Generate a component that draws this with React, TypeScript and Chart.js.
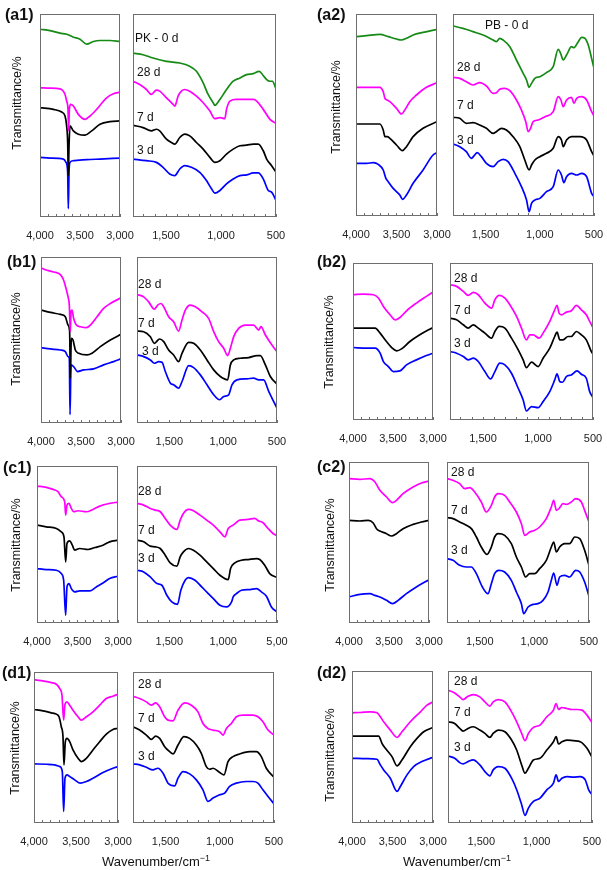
import React, { useEffect, useRef } from "react";
import { Chart, registerables } from "chart.js";

Chart.register(...registerables);

type Pt = [number, number];

const FONT = '"Liberation Sans", Arial, Helvetica, sans-serif';
const GREEN = "#158a15";
const MAGENTA = "#ff00ff";
const BLACK = "#000000";
const BLUE = "#0000ff";

// ---- tick labels ----
const LEFT_TICKS: Record<number, string> = { 4000: "4,000", 3500: "3,500", 3000: "3,000" };
const RIGHT_TICKS: Record<number, string> = { 1500: "1,500", 1000: "1,000", 500: "500" };
const RIGHT_TICKS_C1: Record<number, string> = { 1500: "1,500", 1000: "1,000", 500: "5,00" };

// ---- data: [wavenumber cm-1, transmittance a.u.] ----
// (a1) PK
const A1_L_0D: Pt[] = [[4000,567],[3875,563],[3750,555],[3667,552],[3583,543],[3500,537],[3417,522],[3333,530],[3250,533],[3125,533],[3000,530]];
const A1_L_28D: Pt[] = [[4000,390],[3875,389],[3750,387],[3687,370],[3667,350],[3650,325],[3642,260],[3633,325],[3617,340],[3583,335],[3521,310],[3437,295],[3375,305],[3292,325],[3167,360],[3083,372],[3000,377]];
const A1_L_7D: Pt[] = [[4000,330],[3833,325],[3729,317],[3687,305],[3667,275],[3654,225],[3646,125],[3637,215],[3625,275],[3583,260],[3521,250],[3437,247],[3354,260],[3250,280],[3125,288],[3000,290]];
const A1_L_3D: Pt[] = [[4000,180],[3875,178],[3708,175],[3675,165],[3654,135],[3646,25],[3637,135],[3625,165],[3583,170],[3417,173],[3250,175],[3000,178]];
const A1_R_0D: Pt[] = [[1800,495],[1709,490],[1618,480],[1496,470],[1375,465],[1284,455],[1223,440],[1162,405],[1117,370],[1071,345],[1056,337],[1010,355],[950,385],[889,410],[828,420],[767,430],[707,433],[652,440],[616,427],[585,415],[555,410],[533,410],[500,387]];
const A1_R_28D: Pt[] = [[1800,410],[1739,400],[1678,385],[1633,370],[1587,383],[1557,380],[1496,360],[1436,340],[1420,335],[1390,365],[1360,380],[1329,385],[1284,380],[1223,365],[1162,345],[1101,320],[1056,297],[1010,300],[965,297],[950,325],[919,350],[859,355],[767,355],[707,355],[676,350],[616,325],[555,295],[500,283]];
const A1_R_7D: Pt[] = [[1800,277],[1709,270],[1633,260],[1587,265],[1557,260],[1496,235],[1451,225],[1420,220],[1375,240],[1329,250],[1284,245],[1223,225],[1162,205],[1101,180],[1056,165],[1010,170],[950,190],[889,205],[828,215],[767,217],[707,220],[661,220],[616,200],[585,175],[540,155],[500,135]];
const A1_R_3D: Pt[] = [[1800,175],[1678,170],[1587,165],[1527,150],[1466,130],[1420,125],[1375,145],[1329,155],[1269,150],[1193,135],[1132,110],[1086,85],[1056,72],[1010,80],[950,100],[889,115],[828,125],[767,127],[707,133],[661,133],[616,115],[570,80],[540,75],[500,50]];

// (a2) PB
const A2_L_0D: Pt[] = [[4000,538],[3869,541],[3705,545],[3602,538],[3500,531],[3439,528],[3377,533],[3295,543],[3172,551],[3000,560]];
const A2_L_28D: Pt[] = [[4000,386],[3869,386],[3705,386],[3664,373],[3643,353],[3615,348],[3582,343],[3500,323],[3439,306],[3398,318],[3336,343],[3254,363],[3131,386],[3000,400]];
const A2_L_7D: Pt[] = [[4000,276],[3869,276],[3705,276],[3664,258],[3643,238],[3615,238],[3582,233],[3500,213],[3426,196],[3377,208],[3295,238],[3172,263],[3000,283]];
const A2_L_3D: Pt[] = [[4000,158],[3869,158],[3787,160],[3725,155],[3664,138],[3631,113],[3602,103],[3541,83],[3459,63],[3426,50],[3377,63],[3295,98],[3172,138],[3049,183],[3000,190]];
const A2_R_0D: Pt[] = [[1800,570],[1708,563],[1615,553],[1523,543],[1430,528],[1400,523],[1369,533],[1338,528],[1276,508],[1215,468],[1153,428],[1122,408],[1098,386],[1076,398],[1045,413],[999,418],[938,430],[876,448],[830,500],[808,488],[784,468],[753,483],[707,508],[685,505],[645,523],[614,536],[583,533],[553,513],[522,473],[500,443]];
const A2_R_28D: Pt[] = [[1800,416],[1738,413],[1677,403],[1615,393],[1554,400],[1492,390],[1430,368],[1400,370],[1369,380],[1323,383],[1276,376],[1215,348],[1169,318],[1129,283],[1107,253],[1085,263],[1061,283],[1015,288],[953,298],[876,313],[830,358],[805,348],[784,328],[753,348],[707,356],[685,338],[660,353],[614,358],[568,348],[522,313],[500,300]];
const A2_R_7D: Pt[] = [[1800,296],[1738,293],[1677,278],[1615,280],[1554,273],[1492,263],[1430,248],[1400,253],[1353,263],[1307,258],[1246,238],[1184,208],[1138,168],[1098,138],[1076,153],[1045,168],[999,178],[938,188],[876,203],[830,238],[800,228],[784,208],[753,228],[707,238],[630,238],[568,228],[522,193],[500,180]];
const A2_R_3D: Pt[] = [[1800,216],[1738,208],[1677,193],[1631,173],[1600,183],[1578,190],[1538,178],[1492,158],[1430,148],[1384,163],[1338,170],[1292,163],[1230,128],[1169,88],[1122,48],[1098,13],[1076,38],[1045,48],[999,53],[938,73],[876,88],[830,138],[800,123],[778,100],[753,118],[707,128],[660,123],[614,128],[568,118],[522,68],[500,58]];

// (b1)
const B1_L_28D: Pt[] = [[4000,467],[3925,460],[3842,455],[3758,447],[3717,430],[3687,405],[3662,380],[3646,355],[3633,275],[3625,335],[3612,340],[3592,315],[3558,295],[3508,290],[3433,287],[3383,295],[3300,320],[3217,345],[3133,360],[3000,377]];
const B1_L_7D: Pt[] = [[4000,340],[3883,333],[3758,327],[3696,320],[3662,295],[3642,275],[3633,135],[3621,255],[3600,250],[3571,220],[3529,210],[3425,205],[3362,210],[3258,230],[3133,250],[3000,267]];
const B1_L_3D: Pt[] = [[4000,227],[3883,223],[3758,220],[3696,215],[3662,200],[3646,195],[3637,25],[3625,175],[3592,170],[3542,155],[3467,160],[3342,163],[3217,175],[3092,185],[3000,193]];
const B1_R_28D: Pt[] = [[1800,387],[1738,380],[1692,365],[1639,343],[1608,355],[1577,360],[1552,350],[1506,320],[1460,305],[1413,277],[1382,310],[1351,340],[1305,355],[1258,350],[1196,335],[1135,315],[1088,275],[1042,245],[995,225],[958,203],[933,225],[902,260],[856,285],[794,295],[717,295],[670,280],[649,290],[608,265],[547,235],[500,215]];
const B1_R_7D: Pt[] = [[1800,277],[1738,275],[1676,260],[1639,240],[1590,253],[1552,245],[1506,220],[1460,205],[1413,185],[1382,210],[1320,243],[1274,240],[1212,220],[1150,190],[1088,160],[1026,140],[958,130],[933,175],[902,190],[840,195],[763,197],[686,203],[655,203],[608,175],[562,140],[500,117]];
const B1_R_3D: Pt[] = [[1800,205],[1738,200],[1676,190],[1639,180],[1599,185],[1568,183],[1537,155],[1490,120],[1460,115],[1413,105],[1382,125],[1320,173],[1274,167],[1212,145],[1150,115],[1088,85],[1032,70],[995,80],[949,85],[918,115],[871,130],[779,133],[717,135],[670,130],[624,130],[577,95],[547,75],[500,45]];

// (b2)
const B2_L_28D: Pt[] = [[4000,375],[3868,377],[3744,375],[3682,365],[3620,340],[3537,315],[3475,300],[3413,307],[3331,327],[3207,350],[3083,370],[3000,383]];
const B2_L_7D: Pt[] = [[4000,275],[3868,275],[3723,275],[3661,260],[3599,240],[3517,217],[3455,207],[3393,213],[3289,235],[3165,255],[3000,277]];
const B2_L_3D: Pt[] = [[4000,217],[3826,215],[3723,215],[3661,200],[3620,175],[3558,160],[3496,145],[3413,147],[3331,165],[3207,180],[3083,193],[3000,200]];
const B2_R_28D: Pt[] = [[1800,405],[1740,400],[1679,385],[1634,373],[1588,382],[1543,375],[1483,350],[1422,335],[1392,360],[1353,373],[1301,365],[1256,345],[1195,310],[1150,275],[1105,240],[1074,255],[1044,255],[990,245],[954,260],[893,295],[848,330],[827,343],[808,320],[787,315],[742,323],[697,327],[651,343],[606,330],[561,315],[530,295],[500,277]];
const B2_R_7D: Pt[] = [[1800,305],[1740,300],[1679,285],[1634,275],[1588,285],[1543,275],[1483,260],[1422,245],[1392,265],[1353,280],[1301,275],[1241,245],[1180,210],[1135,180],[1105,157],[1059,173],[999,160],[954,185],[893,215],[848,250],[827,263],[802,240],[772,240],[727,250],[697,250],[651,265],[606,255],[561,240],[515,205],[500,197]];
const B2_R_3D: Pt[] = [[1800,205],[1740,200],[1679,190],[1634,180],[1588,185],[1543,175],[1483,145],[1431,123],[1392,145],[1347,170],[1301,165],[1241,140],[1180,95],[1135,60],[1105,27],[1059,40],[999,37],[954,55],[893,85],[848,120],[827,138],[802,115],[778,113],[742,130],[697,135],[645,147],[606,137],[561,125],[530,85],[500,67]];

// (c1)
const C1_L_28D: Pt[] = [[4000,410],[3885,406],[3802,400],[3741,393],[3700,378],[3658,363],[3646,323],[3630,353],[3605,358],[3576,343],[3547,333],[3494,336],[3391,333],[3309,340],[3226,350],[3103,358],[3000,362]];
const C1_L_7D: Pt[] = [[4000,293],[3885,288],[3761,283],[3700,273],[3667,258],[3646,183],[3630,238],[3597,246],[3564,233],[3535,218],[3473,223],[3370,220],[3284,226],[3185,233],[3103,243],[3000,248]];
const C1_L_3D: Pt[] = [[4000,163],[3885,160],[3761,158],[3700,148],[3671,128],[3646,23],[3630,108],[3605,118],[3576,103],[3535,93],[3473,96],[3350,96],[3268,108],[3185,120],[3103,133],[3000,140]];
const C1_R_28D: Pt[] = [[1800,358],[1738,353],[1677,343],[1631,338],[1584,333],[1538,313],[1492,293],[1430,280],[1399,308],[1369,328],[1322,340],[1276,336],[1215,323],[1153,308],[1091,293],[1030,273],[984,258],[953,283],[907,293],[845,308],[768,310],[706,313],[675,306],[629,300],[583,283],[537,268],[500,261]];
const C1_R_7D: Pt[] = [[1800,248],[1738,243],[1677,230],[1631,228],[1584,223],[1538,203],[1492,180],[1430,170],[1399,198],[1369,213],[1322,223],[1276,218],[1215,203],[1153,183],[1091,163],[1030,143],[953,130],[931,163],[891,180],[830,188],[768,190],[691,193],[660,190],[614,173],[568,148],[500,136]];
const C1_R_3D: Pt[] = [[1800,158],[1738,153],[1677,138],[1615,118],[1569,113],[1523,83],[1477,63],[1424,56],[1393,98],[1353,128],[1322,136],[1261,128],[1199,108],[1138,88],[1091,73],[1030,53],[968,48],[922,63],[907,78],[876,88],[830,98],[752,100],[691,103],[645,93],[598,80],[552,48],[500,33]];

// (c2)
const C2_L_28D: Pt[] = [[4000,433],[3863,431],[3739,433],[3676,423],[3614,398],[3531,378],[3456,361],[3407,368],[3324,388],[3199,408],[3095,420],[3000,426]];
const C2_L_7D: Pt[] = [[4000,308],[3863,306],[3759,308],[3697,300],[3656,283],[3614,276],[3531,268],[3469,261],[3407,268],[3324,283],[3199,296],[3095,303],[3000,308]];
const C2_L_3D: Pt[] = [[4000,78],[3863,86],[3739,88],[3676,83],[3614,78],[3531,68],[3456,58],[3386,68],[3282,88],[3158,108],[3000,130]];
const C2_R_28D: Pt[] = [[1800,433],[1745,428],[1684,418],[1638,403],[1592,406],[1547,393],[1486,363],[1440,333],[1394,353],[1364,378],[1333,388],[1272,383],[1226,363],[1165,333],[1119,298],[1089,263],[1043,273],[997,278],[952,288],[891,313],[845,348],[823,368],[799,338],[775,343],[738,358],[707,356],[662,363],[622,373],[570,363],[540,338],[500,303]];
const C2_R_7D: Pt[] = [[1800,316],[1745,313],[1684,303],[1623,293],[1577,283],[1531,258],[1486,228],[1434,206],[1394,228],[1364,258],[1333,268],[1272,263],[1211,238],[1165,198],[1119,168],[1080,138],[1043,148],[997,148],[952,163],[891,188],[845,228],[823,243],[799,213],[769,228],[723,238],[677,238],[631,258],[585,253],[540,218],[500,173]];
const C2_R_3D: Pt[] = [[1800,193],[1745,188],[1684,173],[1623,168],[1577,168],[1531,148],[1476,108],[1425,88],[1394,118],[1364,148],[1327,158],[1272,153],[1211,128],[1165,93],[1119,58],[1098,28],[1058,48],[1013,56],[967,58],[921,68],[875,93],[845,128],[823,150],[793,113],[769,138],[723,143],[677,138],[622,158],[585,153],[540,123],[500,80]];

// (d1)
const D1_L_28D: Pt[] = [[4000,432],[3893,428],[3794,423],[3734,418],[3694,405],[3667,385],[3647,310],[3631,358],[3607,365],[3575,355],[3536,340],[3476,320],[3437,310],[3377,320],[3298,335],[3218,355],[3139,375],[3060,382],[3000,388]];
const D1_L_7D: Pt[] = [[4000,342],[3893,338],[3794,332],[3734,328],[3702,320],[3675,290],[3655,260],[3643,175],[3627,245],[3607,255],[3575,245],[3536,220],[3476,195],[3437,185],[3377,195],[3298,220],[3218,245],[3139,268],[3060,282],[3000,285]];
const D1_L_3D: Pt[] = [[4000,178],[3853,177],[3754,175],[3694,170],[3663,155],[3647,35],[3631,135],[3607,145],[3575,140],[3516,130],[3448,120],[3377,125],[3298,135],[3179,152],[3060,165],[3000,170]];
const D1_R_28D: Pt[] = [[1800,382],[1739,375],[1677,365],[1631,355],[1591,362],[1554,350],[1508,320],[1477,310],[1431,308],[1385,340],[1324,362],[1262,355],[1201,335],[1155,300],[1109,285],[1062,280],[1001,275],[970,265],[939,285],[893,300],[847,320],[786,325],[694,325],[648,320],[602,305],[555,280],[500,265]];
const D1_R_7D: Pt[] = [[1800,290],[1739,280],[1677,265],[1631,252],[1591,262],[1554,255],[1508,230],[1462,215],[1431,208],[1385,235],[1330,260],[1278,255],[1216,235],[1170,210],[1124,170],[1093,162],[1062,165],[1001,152],[961,145],[924,185],[878,200],[817,208],[724,215],[663,215],[617,200],[571,165],[500,138]];
const D1_R_3D: Pt[] = [[1800,178],[1739,175],[1677,168],[1616,160],[1570,165],[1523,150],[1477,120],[1416,112],[1385,135],[1339,155],[1278,148],[1216,130],[1155,100],[1109,65],[1062,75],[1001,85],[955,90],[909,110],[847,120],[755,125],[694,125],[648,120],[602,100],[555,80],[500,58]];

// (d2)
const D2_L_28D: Pt[] = [[4000,332],[3897,333],[3774,335],[3691,332],[3650,320],[3609,305],[3527,280],[3444,258],[3383,275],[3280,305],[3156,335],[3074,355],[3000,365]];
const D2_L_7D: Pt[] = [[4000,262],[3815,262],[3671,262],[3630,240],[3588,225],[3506,200],[3444,172],[3383,190],[3280,230],[3198,255],[3115,275],[3000,288]];
const D2_L_3D: Pt[] = [[4000,195],[3815,194],[3691,192],[3650,175],[3609,160],[3527,135],[3444,95],[3403,110],[3321,145],[3239,170],[3136,185],[3000,198]];
const D2_R_28D: Pt[] = [[1800,400],[1740,392],[1694,380],[1664,372],[1619,382],[1573,387],[1513,380],[1467,365],[1422,352],[1392,365],[1347,372],[1286,365],[1226,335],[1180,305],[1135,270],[1105,248],[1074,270],[1029,288],[969,295],[908,320],[848,340],[824,360],[802,342],[772,348],[727,345],[682,342],[636,342],[591,340],[545,325],[500,302]];
const D2_R_7D: Pt[] = [[1800,305],[1740,300],[1694,285],[1664,277],[1619,285],[1573,290],[1513,280],[1467,270],[1422,258],[1392,270],[1347,280],[1286,275],[1226,250],[1180,220],[1135,175],[1105,150],[1074,165],[1029,190],[969,195],[908,220],[848,245],[824,260],[802,238],[772,245],[727,250],[666,248],[606,245],[545,225],[500,198]];
const D2_R_3D: Pt[] = [[1800,202],[1740,195],[1694,182],[1664,178],[1619,185],[1573,190],[1513,175],[1467,155],[1422,142],[1392,160],[1347,170],[1286,165],[1226,135],[1180,100],[1135,55],[1105,23],[1074,45],[1029,65],[969,75],[908,100],[848,120],[824,145],[802,125],[772,135],[727,140],[666,138],[606,140],[561,130],[530,100],[500,85]];

// ---- layout ----
const PADX = 40;
const PADT = 4;
const AXH = 32;

type Series = { pts: Pt[]; color: string };
type PanelDef = {
  tag: string;
  tagX: number;
  tagY: number;
  titleX: number;
  titleY: number;
  left: [number, number];
  right: [number, number];
  top: number;
  bottom: number;
  yMax: number;
  rightLabels: Record<number, string>;
  leftSeries: Series[];
  rightSeries: Series[];
  notes: [string, number, number][];
};

const PANELS: PanelDef[] = [
  {
    tag: "(a1)", tagX: 5, tagY: 15, titleX: 17, titleY: 103,
    left: [40, 120], right: [133, 276], top: 14, bottom: 217, yMax: 613,
    rightLabels: RIGHT_TICKS,
    leftSeries: [{ pts: A1_L_0D, color: GREEN }, { pts: A1_L_28D, color: MAGENTA }, { pts: A1_L_7D, color: BLACK }, { pts: A1_L_3D, color: BLUE }],
    rightSeries: [{ pts: A1_R_0D, color: GREEN }, { pts: A1_R_28D, color: MAGENTA }, { pts: A1_R_7D, color: BLACK }, { pts: A1_R_3D, color: BLUE }],
    notes: [["PK - 0 d", 135, 38], ["28 d", 137, 72], ["7 d", 137, 117], ["3 d", 137, 150]],
  },
  {
    tag: "(a2)", tagX: 317, tagY: 15, titleX: 336, titleY: 107,
    left: [356, 437], right: [453, 594], top: 14, bottom: 216, yMax: 606,
    rightLabels: RIGHT_TICKS,
    leftSeries: [{ pts: A2_L_0D, color: GREEN }, { pts: A2_L_28D, color: MAGENTA }, { pts: A2_L_7D, color: BLACK }, { pts: A2_L_3D, color: BLUE }],
    rightSeries: [{ pts: A2_R_0D, color: GREEN }, { pts: A2_R_28D, color: MAGENTA }, { pts: A2_R_7D, color: BLACK }, { pts: A2_R_3D, color: BLUE }],
    notes: [["PB - 0 d", 485, 25], ["28 d", 457, 67], ["7 d", 457, 105], ["3 d", 457, 140]],
  },
  {
    tag: "(b1)", tagX: 7, tagY: 262, titleX: 16, titleY: 339,
    left: [41, 121], right: [137, 277], top: 257, bottom: 423, yMax: 500,
    rightLabels: RIGHT_TICKS,
    leftSeries: [{ pts: B1_L_28D, color: MAGENTA }, { pts: B1_L_7D, color: BLACK }, { pts: B1_L_3D, color: BLUE }],
    rightSeries: [{ pts: B1_R_28D, color: MAGENTA }, { pts: B1_R_7D, color: BLACK }, { pts: B1_R_3D, color: BLUE }],
    notes: [["28 d", 138, 284], ["7 d", 138, 323], ["3 d", 142, 351]],
  },
  {
    tag: "(b2)", tagX: 317, tagY: 262, titleX: 329, titleY: 342,
    left: [353, 433], right: [450, 593], top: 263, bottom: 420, yMax: 470,
    rightLabels: RIGHT_TICKS,
    leftSeries: [{ pts: B2_L_28D, color: MAGENTA }, { pts: B2_L_7D, color: BLACK }, { pts: B2_L_3D, color: BLUE }],
    rightSeries: [{ pts: B2_R_28D, color: MAGENTA }, { pts: B2_R_7D, color: BLACK }, { pts: B2_R_3D, color: BLUE }],
    notes: [["28 d", 454, 278], ["7 d", 454, 310], ["3 d", 454, 343]],
  },
  {
    tag: "(c1)", tagX: 3, tagY: 468, titleX: 16, titleY: 545,
    left: [37, 118], right: [137, 277], top: 466, bottom: 623, yMax: 470,
    rightLabels: RIGHT_TICKS_C1,
    leftSeries: [{ pts: C1_L_28D, color: MAGENTA }, { pts: C1_L_7D, color: BLACK }, { pts: C1_L_3D, color: BLUE }],
    rightSeries: [{ pts: C1_R_28D, color: MAGENTA }, { pts: C1_R_7D, color: BLACK }, { pts: C1_R_3D, color: BLUE }],
    notes: [["28 d", 138, 491], ["7 d", 138, 530], ["3 d", 138, 558]],
  },
  {
    tag: "(c2)", tagX: 317, tagY: 467, titleX: 330, titleY: 545,
    left: [349, 429], right: [447, 589], top: 462, bottom: 623, yMax: 483,
    rightLabels: RIGHT_TICKS,
    leftSeries: [{ pts: C2_L_28D, color: MAGENTA }, { pts: C2_L_7D, color: BLACK }, { pts: C2_L_3D, color: BLUE }],
    rightSeries: [{ pts: C2_R_28D, color: MAGENTA }, { pts: C2_R_7D, color: BLACK }, { pts: C2_R_3D, color: BLUE }],
    notes: [["28 d", 451, 472], ["7 d", 451, 510], ["3 d", 451, 550]],
  },
  {
    tag: "(d1)", tagX: 2, tagY: 673, titleX: 15, titleY: 748,
    left: [34, 118], right: [133, 274], top: 672, bottom: 823, yMax: 455,
    rightLabels: RIGHT_TICKS,
    leftSeries: [{ pts: D1_L_28D, color: MAGENTA }, { pts: D1_L_7D, color: BLACK }, { pts: D1_L_3D, color: BLUE }],
    rightSeries: [{ pts: D1_R_28D, color: MAGENTA }, { pts: D1_R_7D, color: BLACK }, { pts: D1_R_3D, color: BLUE }],
    notes: [["28 d", 138, 684], ["7 d", 138, 718], ["3 d", 138, 756]],
  },
  {
    tag: "(d2)", tagX: 317, tagY: 673, titleX: 330, titleY: 755,
    left: [352, 433], right: [448, 592], top: 671, bottom: 823, yMax: 458,
    rightLabels: RIGHT_TICKS,
    leftSeries: [{ pts: D2_L_28D, color: MAGENTA }, { pts: D2_L_7D, color: BLACK }, { pts: D2_L_3D, color: BLUE }],
    rightSeries: [{ pts: D2_R_28D, color: MAGENTA }, { pts: D2_R_7D, color: BLACK }, { pts: D2_R_3D, color: BLUE }],
    notes: [["28 d", 454, 681], ["7 d", 454, 712], ["3 d", 454, 747]],
  },
];

const framePlugin = {
  id: "frame",
  afterDatasetsDraw(chart: any) {
    const { ctx, chartArea: a } = chart;
    ctx.save();
    ctx.strokeStyle = "#6e6e6e";
    ctx.lineWidth = 1;
    ctx.strokeRect(Math.round(a.left) + 0.5, Math.round(a.top) + 0.5, Math.round(a.right - a.left) - 1, Math.round(a.bottom - a.top) - 1);
    ctx.restore();
  },
};

type SpectrumProps = {
  x0: number; x1: number; y0: number; y1: number;
  wnMin: number; wnMax: number; yMax: number;
  labels: Record<number, string>;
  series: Series[];
};

function Spectrum({ x0, x1, y0, y1, wnMin, wnMax, yMax, labels, series }: SpectrumProps) {
  const ref = useRef<HTMLCanvasElement>(null);
  const W = x1 - x0 + 2 * PADX;
  const H = y1 - y0 + PADT + AXH;
  useEffect(() => {
    if (!ref.current) return;
    const chart = new Chart(ref.current, {
      type: "line",
      data: {
        datasets: series.map((s) => ({
          data: s.pts.map(([x, y]) => ({ x, y })),
          borderColor: s.color,
          borderWidth: 1.7,
          pointRadius: 0,
          fill: false,
          cubicInterpolationMode: "monotone" as const,
        })),
      },
      options: {
        animation: false,
        responsive: false,
        maintainAspectRatio: false,
        devicePixelRatio: 1,
        events: [],
        layout: { padding: { left: PADX, right: PADX, top: PADT, bottom: 0 }, autoPadding: false },
        plugins: { legend: { display: false }, tooltip: { enabled: false } },
        scales: {
          x: {
            type: "linear",
            min: wnMin,
            max: wnMax,
            reverse: true,
            position: "bottom",
            afterFit: (s: any) => { s.height = AXH; },
            border: { display: false },
            grid: { drawOnChartArea: false, drawTicks: true, tickLength: -3, color: "#6e6e6e", lineWidth: 1 },
            ticks: {
              stepSize: 100,
              maxTicksLimit: 30,
              autoSkip: false,
              maxRotation: 0,
              minRotation: 0,
              padding: 15,
              color: "#222",
              font: { family: FONT, size: 11 },
              callback: (v: any) => labels[Number(v)] ?? "",
            },
          },
          y: { type: "linear", display: false, min: 0, max: yMax },
        },
      },
      plugins: [framePlugin],
    });
    return () => chart.destroy();
  }, []);
  return (
    <canvas
      ref={ref}
      width={W}
      height={H}
      style={{ position: "absolute", left: x0 - PADX, top: y0 - PADT, width: W, height: H }}
    />
  );
}

const textBase: React.CSSProperties = { position: "absolute", fontFamily: FONT, color: "#111", whiteSpace: "nowrap", lineHeight: 1 };

export default function App() {
  return (
    <div style={{ position: "absolute", left: 0, top: 0, width: 607, height: 870, background: "#fff", overflow: "hidden" }}>
      {PANELS.map((p) => (
        <React.Fragment key={p.tag}>
          <Spectrum x0={p.left[0]} x1={p.left[1]} y0={p.top} y1={p.bottom} wnMin={3000} wnMax={4000} yMax={p.yMax} labels={LEFT_TICKS} series={p.leftSeries} />
          <Spectrum x0={p.right[0]} x1={p.right[1]} y0={p.top} y1={p.bottom} wnMin={500} wnMax={1800} yMax={p.yMax} labels={p.rightLabels} series={p.rightSeries} />
          <div style={{ ...textBase, left: p.tagX, top: p.tagY - 8, fontSize: 16, fontWeight: "bold" }}>{p.tag}</div>
          <div style={{ ...textBase, left: p.titleX, top: p.titleY, fontSize: 12.5, transform: "translate(-50%, -50%) rotate(-90deg)" }}>Transmittance/%</div>
          {p.notes.map(([t, x, y]) => (
            <div key={t} style={{ ...textBase, left: x, top: y - 6, fontSize: 12 }}>{t}</div>
          ))}
        </React.Fragment>
      ))}
      <div style={{ ...textBase, left: 156, top: 861, fontSize: 13, transform: "translate(-50%, -50%)" }}>
        Wavenumber/cm<sup style={{ fontSize: 9 }}>−1</sup>
      </div>
      <div style={{ ...textBase, left: 457, top: 861, fontSize: 13, transform: "translate(-50%, -50%)" }}>
        Wavenumber/cm<sup style={{ fontSize: 9 }}>−1</sup>
      </div>
    </div>
  );
}
